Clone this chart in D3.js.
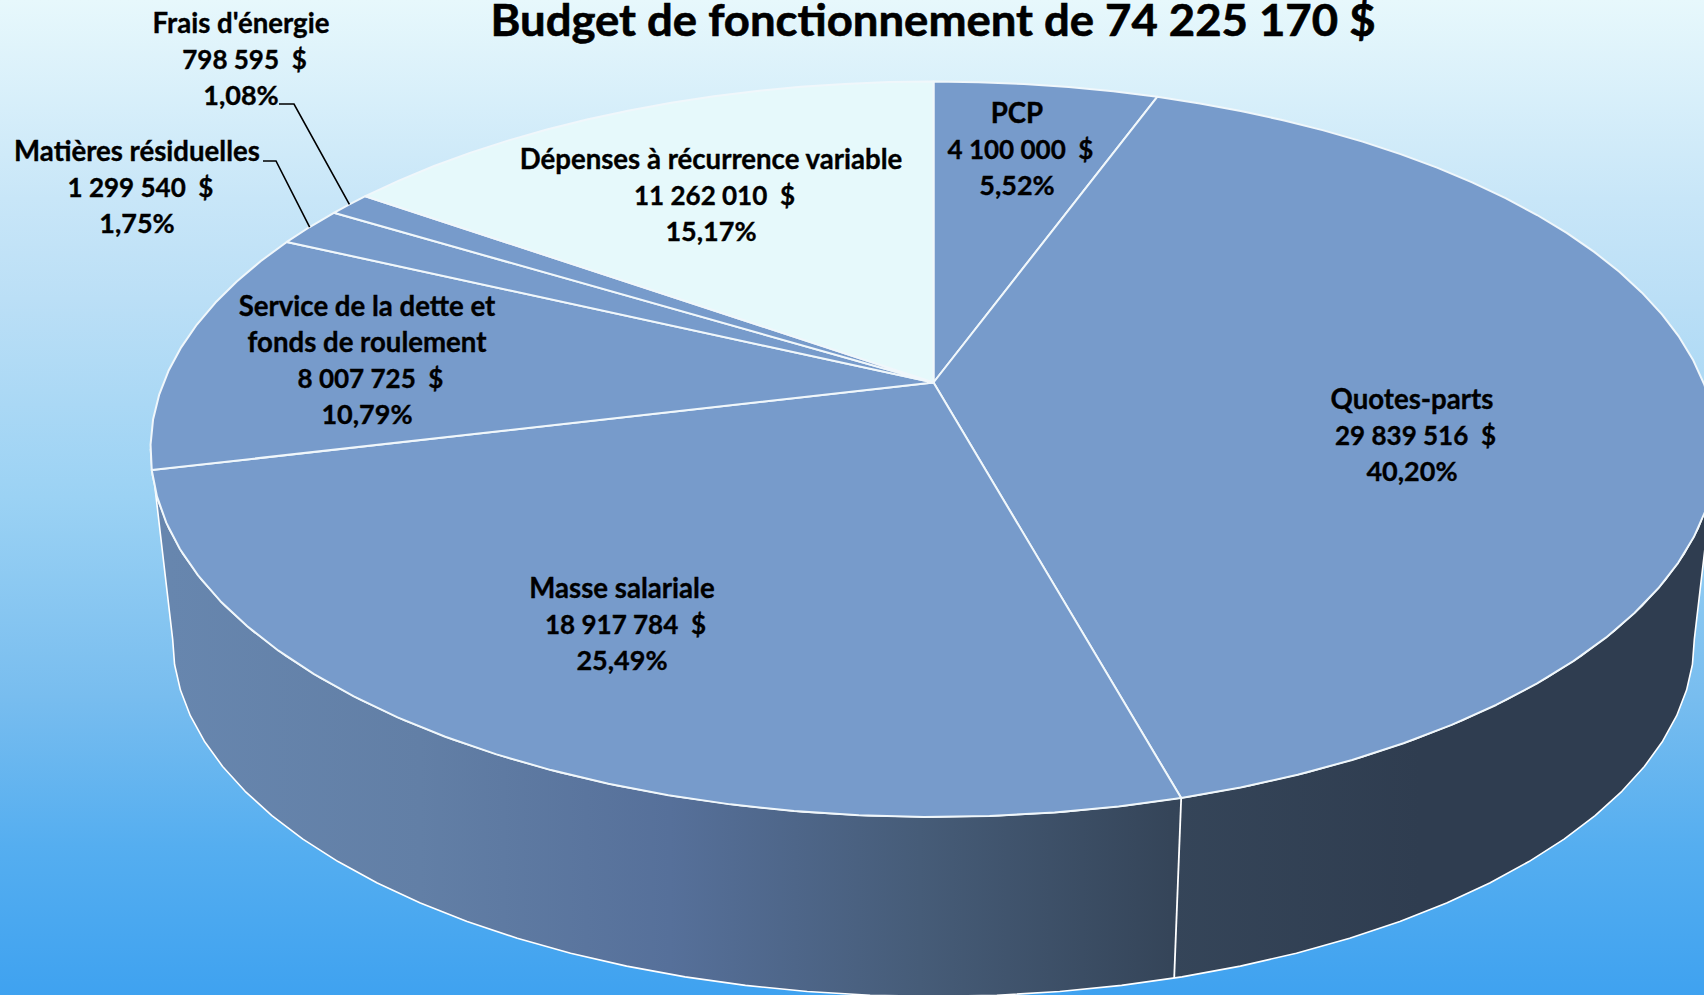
<!DOCTYPE html>
<html>
<head>
<meta charset="utf-8">
<title>Budget de fonctionnement</title>
<script src="https://cdn.jsdelivr.net/npm/d3@7"></script>
<style>
  html, body { margin: 0; padding: 0; overflow: hidden; background: #3fa2f0; }
  svg { display: block; }
  text { font-family: Lato, "Open Sans", sans-serif; font-weight: 700; fill: #000; stroke: #000; stroke-width: 0.35; white-space: pre; }
</style>
</head>
<body>
<script>
const titleText = "Budget de fonctionnement de 74 225 170 $";
const categories = ["PCP", "Quotes-parts", "Masse salariale", "Service de la dette et|fonds de roulement", "Matières résiduelles", "Frais d'énergie", "Dépenses à récurrence variable"];
const amounts = [4100000, 29839516, 18917784, 8007725, 1299540, 798595, 11262010];

// slice fill, only the last one is pale
const topColors = ["#779bcb", "#779bcb", "#779bcb", "#779bcb", "#779bcb", "#779bcb", "#e6f9fb"];

// where each label block sits (centre x, baseline of first line)
const labelPos = [
  [1017, 123], [1412, 409], [622, 598], [367, 316], [137, 161], [241, 33], [711, 169]
];
// leader lines: start of the little horizontal stroke, then the elbow
const leaders = { 4: [[263, 161], [276, 161]], 5: [[279, 104], [294, 104]] };

const width = 1704, height = 995;
const cx = 933.5, cy = 382.5;
const A = 770, B = 355.6, persp = 0.1815; // top face homography
const vanishY = 7160, depthScale = 0.9717; // bottom face = top face pulled to this point

// angle is clockwise from 12 o'clock
function topPoint(a) {
  const u = Math.sin(a), v = -Math.cos(a), w = 1 - persp * v;
  return [cx + A * u / w, cy + B * v / w];
}
function bottomPoint(a) {
  const p = topPoint(a);
  return [cx + (p[0] - cx) * depthScale, vanishY - (vanishY - p[1]) * depthScale];
}
function sampleAngles(a0, a1) {
  const n = Math.max(2, Math.ceil(Math.abs(a1 - a0) / (4 * Math.PI / 180)));
  return d3.range(n + 1).map(i => a0 + (a1 - a0) * i / n);
}

const total = d3.sum(amounts);
const arcs = d3.pie().sort(null)(amounts);
const frFormat = d3.formatLocale({ decimal: ",", thousands: " ", grouping: [3], currency: ["", " $"] });
const moneyFmt = frFormat.format(",d");
const pctFmt = frFormat.format(".2f");

const svg = d3.select("body").append("svg").attr("width", width).attr("height", height);
const defs = svg.append("defs");

const bg = defs.append("linearGradient").attr("id", "bg")
  .attr("x1", 0).attr("y1", 0).attr("x2", 0).attr("y2", 1);
[[0, "#e7f8fc"], [0.2, "#c8e6f8"], [0.3, "#bbdff6"], [0.5, "#9bd2f4"], [0.7, "#78bdef"], [0.85, "#55aef0"], [1, "#3fa2f0"]]
  .forEach(s => bg.append("stop").attr("offset", s[0]).attr("stop-color", s[1]));

const wallGrad = defs.append("linearGradient").attr("id", "wall")
  .attr("gradientUnits", "userSpaceOnUse")
  .attr("x1", 170).attr("y1", 0).attr("x2", 1420).attr("y2", 0);
[[0, "#6786ae"], [0.2, "#627fa6"], [0.4, "#56709a"], [0.6, "#465c78"], [0.8, "#354559"], [1, "#2f3d50"]]
  .forEach(s => wallGrad.append("stop").attr("offset", s[0]).attr("stop-color", s[1]));

svg.append("rect").attr("width", width).attr("height", height).attr("fill", "url(#bg)");

const line = d3.line();

// side wall, only between the two silhouette tangents
const wallStart = Math.acos(-persp), wallEnd = 2 * Math.PI - Math.acos(-persp);
const wallAngles = sampleAngles(wallStart, wallEnd);
svg.append("path")
  .attr("d", line(wallAngles.map(topPoint).concat(wallAngles.slice().reverse().map(bottomPoint))) + "Z")
  .attr("fill", "url(#wall)")
  .attr("stroke", "#fff")
  .attr("stroke-width", 1.6)
  .attr("stroke-linejoin", "round");

// white edge where two slices meet on the wall, not right at the silhouette
const wallEdges = arcs.map(d => d.endAngle)
  .filter(a => a > wallStart + 0.2 && a < wallEnd - 0.2);
svg.append("g").selectAll("path").data(wallEdges).enter().append("path")
  .attr("d", a => line([topPoint(a), bottomPoint(a)]))
  .attr("fill", "none")
  .attr("stroke", "#fff")
  .attr("stroke-width", 1.8);

// top face
svg.append("g").selectAll("path").data(arcs).enter().append("path")
  .attr("d", d => line([[cx, cy]].concat(sampleAngles(d.startAngle, d.endAngle).map(topPoint))) + "Z")
  .attr("fill", (d, i) => topColors[i])
  .attr("stroke", "#f0f7fb")
  .attr("stroke-width", 2)
  .attr("stroke-linejoin", "round");

// leader lines
Object.keys(leaders).forEach(k => {
  const d = arcs[k];
  const end = topPoint((d.startAngle + d.endAngle) / 2);
  svg.append("path")
    .attr("d", line(leaders[k].concat([end])))
    .attr("fill", "none")
    .attr("stroke", "#000")
    .attr("stroke-width", 1.6);
});

// labels, names run a bit bigger than the figures to get close to the original widths
// the amount line sits a little right of the others in the original
const lineH = 36;
categories.forEach((c, i) => {
  const names = c.split("|");
  const lines = names.concat([moneyFmt(amounts[i]) + "  $", pctFmt(amounts[i] / total * 100) + "%"]);
  const t = svg.append("g").attr("class", "label");
  lines.forEach((l, j) => {
    t.append("text")
      .attr("x", labelPos[i][0] + (j === names.length ? 3.5 : 0))
      .attr("y", labelPos[i][1] + j * lineH)
      .attr("text-anchor", "middle")
      .attr("font-size", j < names.length ? 27.6 : (j === names.length ? 26 : 27))
      .text(l);
  });
});

svg.append("text")
  .attr("x", 933).attr("y", 36)
  .attr("text-anchor", "middle")
  .attr("font-size", 44)
  .attr("textLength", 885)
  .attr("lengthAdjust", "spacingAndGlyphs")
  .style("stroke-width", 0.6)
  .text(titleText);
</script>
</body>
</html>
